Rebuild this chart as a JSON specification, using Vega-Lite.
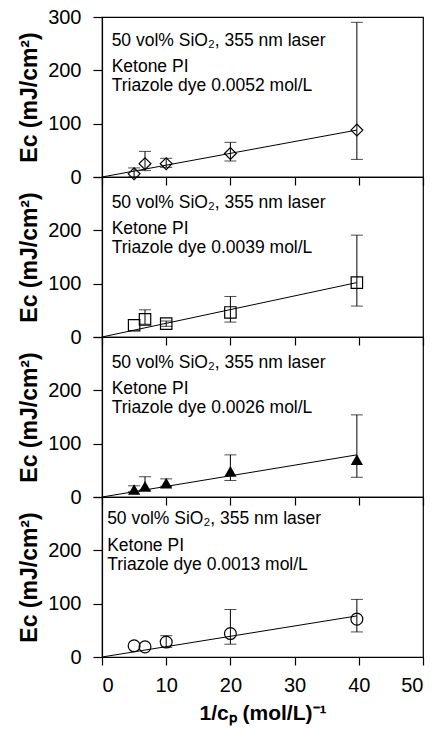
{
  "$schema": "https://vega.github.io/schema/vega-lite/v6.json",
  "background": "white",
  "padding": {"left": 18, "top": 6, "right": 2, "bottom": 2},
  "bounds": "flush",
  "spacing": 0,
  "datasets": {
    "pts": [
      {"panel": 1, "x": 5, "y": 6, "lo": 0, "hi": 17},
      {"panel": 1, "x": 6.7, "y": 25, "lo": 12, "hi": 48},
      {"panel": 1, "x": 10, "y": 25, "lo": 18, "hi": 35},
      {"panel": 1, "x": 20, "y": 44, "lo": 30, "hi": 65},
      {"panel": 1, "x": 39.7, "y": 88, "lo": 33, "hi": 290},
      {"panel": 2, "x": 5, "y": 22, "lo": null, "hi": null},
      {"panel": 2, "x": 6.7, "y": 33, "lo": 24, "hi": 51},
      {"panel": 2, "x": 10, "y": 25, "lo": 20, "hi": 30},
      {"panel": 2, "x": 20, "y": 46, "lo": 28, "hi": 76},
      {"panel": 2, "x": 39.7, "y": 102, "lo": 58, "hi": 191},
      {"panel": 3, "x": 5, "y": 14, "lo": 10, "hi": 21},
      {"panel": 3, "x": 6.7, "y": 20, "lo": 13, "hi": 38},
      {"panel": 3, "x": 10, "y": 26, "lo": 20, "hi": 34},
      {"panel": 3, "x": 20, "y": 48, "lo": 31, "hi": 79},
      {"panel": 3, "x": 39.7, "y": 70, "lo": 37, "hi": 154},
      {"panel": 4, "x": 5, "y": 21, "lo": null, "hi": null},
      {"panel": 4, "x": 6.7, "y": 19, "lo": null, "hi": null},
      {"panel": 4, "x": 10, "y": 28, "lo": 18, "hi": 40},
      {"panel": 4, "x": 20, "y": 44, "lo": 24, "hi": 89},
      {"panel": 4, "x": 39.7, "y": 71, "lo": 47, "hi": 108}
    ],
    "fits": [
      {"panel": 1, "x": 0, "y": 0, "x2": 39.7, "y2": 88},
      {"panel": 2, "x": 0, "y": 0, "x2": 39.7, "y2": 102},
      {"panel": 3, "x": 0, "y": 0, "x2": 39.7, "y2": 79},
      {"panel": 4, "x": 0, "y": 0, "x2": 39.7, "y2": 77}
    ],
    "notes": [
      {"panel": 1, "tx": 1.5, "ty": 245, "text": "50 vol% SiO₂, 355 nm laser"},
      {"panel": 1, "tx": 1.5, "ty": 196, "text": "Ketone PI"},
      {"panel": 1, "tx": 1.5, "ty": 161, "text": "Triazole dye 0.0052 mol/L"},
      {"panel": 2, "tx": 1.5, "ty": 242, "text": "50 vol% SiO₂, 355 nm laser"},
      {"panel": 2, "tx": 1.5, "ty": 193, "text": "Ketone PI"},
      {"panel": 2, "tx": 1.5, "ty": 158, "text": "Triazole dye 0.0039 mol/L"},
      {"panel": 3, "tx": 1.5, "ty": 242, "text": "50 vol% SiO₂, 355 nm laser"},
      {"panel": 3, "tx": 1.5, "ty": 193, "text": "Ketone PI"},
      {"panel": 3, "tx": 1.5, "ty": 158, "text": "Triazole dye 0.0026 mol/L"},
      {"panel": 4, "tx": 0.8, "ty": 250, "text": "50 vol% SiO₂, 355 nm laser"},
      {"panel": 4, "tx": 0.8, "ty": 199, "text": "Ketone PI"},
      {"panel": 4, "tx": 0.8, "ty": 164, "text": "Triazole dye 0.0013 mol/L"}
    ]
  },
  "config": {
    "view": {"stroke": "black", "strokeWidth": 1.2},
    "axis": {
      "domainColor": "black", "domainWidth": 1.2,
      "tickColor": "black", "tickWidth": 1.2,
      "labelColor": "black", "labelFont": "Liberation Sans", "labelFontSize": 20,
      "titleColor": "black", "titleFont": "Liberation Sans", "titleFontWeight": "bold", "titleFontSize": 23,
      "grid": false
    },
    "text": {"font": "Liberation Sans", "fontSize": 17.5, "color": "black", "align": "left", "baseline": "alphabetic"}
  },
  "vconcat": [
    {
      "width": 321, "height": 160,
      "layer": [
        {"data": {"name": "fits"}, "transform": [{"filter": "datum.panel === 1"}],
         "mark": {"type": "rule", "color": "black", "strokeWidth": 1},
         "encoding": {
           "x": {"field": "x", "type": "quantitative", "scale": {"domain": [0, 50], "nice": false},
                 "axis": {"values": [0,5,10,15,20,25,30,35,40,45,50], "labels": false, "title": null,
                          "tickSize": {"condition": {"test": "datum.value % 10 !== 0", "value": 5}, "value": 8}}},
           "y": {"field": "y", "type": "quantitative", "scale": {"domain": [0, 300], "nice": false},
                 "axis": {"values": [0,50,100,150,200,250,300], "labelExpr": "datum.value % 100 === 0 ? datum.label : ''",
                          "tickSize": {"condition": {"test": "datum.value % 100 !== 0", "value": 5}, "value": 9},
                          "labelPadding": 12, "title": "Ec (mJ/cm²)", "titlePadding": 6}},
           "x2": {"field": "x2"}, "y2": {"field": "y2"}}},
        {"data": {"name": "pts"}, "transform": [{"filter": "datum.panel === 1 && datum.lo != null"}],
         "mark": {"type": "rule", "color": "black", "strokeWidth": 1},
         "encoding": {"x": {"field": "x", "type": "quantitative"}, "y": {"field": "lo", "type": "quantitative", "title": "Ec (mJ/cm²)"}, "y2": {"field": "hi"}}},
        {"data": {"name": "pts"}, "transform": [{"filter": "datum.panel === 1 && datum.lo != null"}],
         "mark": {"type": "tick", "orient": "horizontal", "color": "black", "size": 12, "thickness": 1},
         "encoding": {"x": {"field": "x", "type": "quantitative"}, "y": {"field": "lo", "type": "quantitative", "title": "Ec (mJ/cm²)"}}},
        {"data": {"name": "pts"}, "transform": [{"filter": "datum.panel === 1 && datum.lo != null"}],
         "mark": {"type": "tick", "orient": "horizontal", "color": "black", "size": 12, "thickness": 1},
         "encoding": {"x": {"field": "x", "type": "quantitative"}, "y": {"field": "hi", "type": "quantitative", "title": "Ec (mJ/cm²)"}}},
        {"data": {"name": "pts"}, "transform": [{"filter": "datum.panel === 1"}],
         "mark": {"type": "point", "shape": "diamond", "filled": false, "stroke": "black", "strokeWidth": 1.2, "size": 140, "opacity": 1},
         "encoding": {"x": {"field": "x", "type": "quantitative"}, "y": {"field": "y", "type": "quantitative", "title": "Ec (mJ/cm²)"}}},
        {"data": {"name": "notes"}, "transform": [{"filter": "datum.panel === 1"}],
         "mark": {"type": "text"},
         "encoding": {"x": {"field": "tx", "type": "quantitative"}, "y": {"field": "ty", "type": "quantitative", "title": "Ec (mJ/cm²)"}, "text": {"field": "text"}}}
      ]
    },
    {
      "width": 321, "height": 160,
      "layer": [
        {"data": {"name": "fits"}, "transform": [{"filter": "datum.panel === 2"}],
         "mark": {"type": "rule", "color": "black", "strokeWidth": 1},
         "encoding": {
           "x": {"field": "x", "type": "quantitative", "scale": {"domain": [0, 50], "nice": false},
                 "axis": {"values": [0,5,10,15,20,25,30,35,40,45,50], "labels": false, "title": null,
                          "tickSize": {"condition": {"test": "datum.value % 10 !== 0", "value": 5}, "value": 8}}},
           "y": {"field": "y", "type": "quantitative", "scale": {"domain": [0, 300], "nice": false},
                 "axis": {"values": [0,50,100,150,200,250,300], "labelExpr": "datum.value % 100 === 0 && datum.value < 300 ? datum.label : ''",
                          "tickSize": {"condition": {"test": "datum.value % 100 !== 0", "value": 5}, "value": 9},
                          "labelPadding": 12, "title": "Ec (mJ/cm²)", "titlePadding": 6}},
           "x2": {"field": "x2"}, "y2": {"field": "y2"}}},
        {"data": {"name": "pts"}, "transform": [{"filter": "datum.panel === 2 && datum.lo != null"}],
         "mark": {"type": "rule", "color": "black", "strokeWidth": 1},
         "encoding": {"x": {"field": "x", "type": "quantitative"}, "y": {"field": "lo", "type": "quantitative", "title": "Ec (mJ/cm²)"}, "y2": {"field": "hi"}}},
        {"data": {"name": "pts"}, "transform": [{"filter": "datum.panel === 2 && datum.lo != null"}],
         "mark": {"type": "tick", "orient": "horizontal", "color": "black", "size": 12, "thickness": 1},
         "encoding": {"x": {"field": "x", "type": "quantitative"}, "y": {"field": "lo", "type": "quantitative", "title": "Ec (mJ/cm²)"}}},
        {"data": {"name": "pts"}, "transform": [{"filter": "datum.panel === 2 && datum.lo != null"}],
         "mark": {"type": "tick", "orient": "horizontal", "color": "black", "size": 12, "thickness": 1},
         "encoding": {"x": {"field": "x", "type": "quantitative"}, "y": {"field": "hi", "type": "quantitative", "title": "Ec (mJ/cm²)"}}},
        {"data": {"name": "pts"}, "transform": [{"filter": "datum.panel === 2"}],
         "mark": {"type": "point", "shape": "square", "filled": false, "stroke": "black", "strokeWidth": 1.2, "size": 130, "opacity": 1},
         "encoding": {"x": {"field": "x", "type": "quantitative"}, "y": {"field": "y", "type": "quantitative", "title": "Ec (mJ/cm²)"}}},
        {"data": {"name": "notes"}, "transform": [{"filter": "datum.panel === 2"}],
         "mark": {"type": "text"},
         "encoding": {"x": {"field": "tx", "type": "quantitative"}, "y": {"field": "ty", "type": "quantitative", "title": "Ec (mJ/cm²)"}, "text": {"field": "text"}}}
      ]
    },
    {
      "width": 321, "height": 160,
      "layer": [
        {"data": {"name": "fits"}, "transform": [{"filter": "datum.panel === 3"}],
         "mark": {"type": "rule", "color": "black", "strokeWidth": 1},
         "encoding": {
           "x": {"field": "x", "type": "quantitative", "scale": {"domain": [0, 50], "nice": false},
                 "axis": {"values": [0,5,10,15,20,25,30,35,40,45,50], "labels": false, "title": null,
                          "tickSize": {"condition": {"test": "datum.value % 10 !== 0", "value": 5}, "value": 8}}},
           "y": {"field": "y", "type": "quantitative", "scale": {"domain": [0, 300], "nice": false},
                 "axis": {"values": [0,50,100,150,200,250,300], "labelExpr": "datum.value % 100 === 0 && datum.value < 300 ? datum.label : ''",
                          "tickSize": {"condition": {"test": "datum.value % 100 !== 0", "value": 5}, "value": 9},
                          "labelPadding": 12, "title": "Ec (mJ/cm²)", "titlePadding": 6}},
           "x2": {"field": "x2"}, "y2": {"field": "y2"}}},
        {"data": {"name": "pts"}, "transform": [{"filter": "datum.panel === 3 && datum.lo != null"}],
         "mark": {"type": "rule", "color": "black", "strokeWidth": 1},
         "encoding": {"x": {"field": "x", "type": "quantitative"}, "y": {"field": "lo", "type": "quantitative", "title": "Ec (mJ/cm²)"}, "y2": {"field": "hi"}}},
        {"data": {"name": "pts"}, "transform": [{"filter": "datum.panel === 3 && datum.lo != null"}],
         "mark": {"type": "tick", "orient": "horizontal", "color": "black", "size": 12, "thickness": 1},
         "encoding": {"x": {"field": "x", "type": "quantitative"}, "y": {"field": "lo", "type": "quantitative", "title": "Ec (mJ/cm²)"}}},
        {"data": {"name": "pts"}, "transform": [{"filter": "datum.panel === 3 && datum.lo != null"}],
         "mark": {"type": "tick", "orient": "horizontal", "color": "black", "size": 12, "thickness": 1},
         "encoding": {"x": {"field": "x", "type": "quantitative"}, "y": {"field": "hi", "type": "quantitative", "title": "Ec (mJ/cm²)"}}},
        {"data": {"name": "pts"}, "transform": [{"filter": "datum.panel === 3"}],
         "mark": {"type": "point", "shape": "triangle-up", "filled": true, "color": "black", "size": 150, "opacity": 1},
         "encoding": {"x": {"field": "x", "type": "quantitative"}, "y": {"field": "y", "type": "quantitative", "title": "Ec (mJ/cm²)"}}},
        {"data": {"name": "notes"}, "transform": [{"filter": "datum.panel === 3"}],
         "mark": {"type": "text"},
         "encoding": {"x": {"field": "tx", "type": "quantitative"}, "y": {"field": "ty", "type": "quantitative", "title": "Ec (mJ/cm²)"}, "text": {"field": "text"}}}
      ]
    },
    {
      "width": 321, "height": 160,
      "layer": [
        {"data": {"name": "fits"}, "transform": [{"filter": "datum.panel === 4"}],
         "mark": {"type": "rule", "color": "black", "strokeWidth": 1},
         "encoding": {
           "x": {"field": "x", "type": "quantitative", "scale": {"domain": [0, 50], "nice": false},
                 "axis": {"values": [0,5,10,15,20,25,30,35,40,45,50], "labelExpr": "datum.value % 10 === 0 ? datum.label : ''",
                          "tickSize": {"condition": {"test": "datum.value % 10 !== 0", "value": 5}, "value": 8},
                          "labelPadding": 10, "title": "1/cₚ (mol/L)⁻¹", "titleFontSize": 21, "titlePadding": 7}},
           "y": {"field": "y", "type": "quantitative", "scale": {"domain": [0, 300], "nice": false},
                 "axis": {"values": [0,50,100,150,200,250,300], "labelExpr": "datum.value % 100 === 0 && datum.value < 300 ? datum.label : ''",
                          "tickSize": {"condition": {"test": "datum.value % 100 !== 0", "value": 5}, "value": 9},
                          "labelPadding": 12, "title": "Ec (mJ/cm²)", "titlePadding": 6}},
           "x2": {"field": "x2"}, "y2": {"field": "y2"}}},
        {"data": {"name": "pts"}, "transform": [{"filter": "datum.panel === 4 && datum.lo != null"}],
         "mark": {"type": "rule", "color": "black", "strokeWidth": 1},
         "encoding": {"x": {"field": "x", "type": "quantitative", "title": "1/cₚ (mol/L)⁻¹"}, "y": {"field": "lo", "type": "quantitative", "title": "Ec (mJ/cm²)"}, "y2": {"field": "hi"}}},
        {"data": {"name": "pts"}, "transform": [{"filter": "datum.panel === 4 && datum.lo != null"}],
         "mark": {"type": "tick", "orient": "horizontal", "color": "black", "size": 12, "thickness": 1},
         "encoding": {"x": {"field": "x", "type": "quantitative", "title": "1/cₚ (mol/L)⁻¹"}, "y": {"field": "lo", "type": "quantitative", "title": "Ec (mJ/cm²)"}}},
        {"data": {"name": "pts"}, "transform": [{"filter": "datum.panel === 4 && datum.lo != null"}],
         "mark": {"type": "tick", "orient": "horizontal", "color": "black", "size": 12, "thickness": 1},
         "encoding": {"x": {"field": "x", "type": "quantitative", "title": "1/cₚ (mol/L)⁻¹"}, "y": {"field": "hi", "type": "quantitative", "title": "Ec (mJ/cm²)"}}},
        {"data": {"name": "pts"}, "transform": [{"filter": "datum.panel === 4"}],
         "mark": {"type": "point", "shape": "circle", "filled": false, "stroke": "black", "strokeWidth": 1.2, "size": 140, "opacity": 1},
         "encoding": {"x": {"field": "x", "type": "quantitative", "title": "1/cₚ (mol/L)⁻¹"}, "y": {"field": "y", "type": "quantitative", "title": "Ec (mJ/cm²)"}}},
        {"data": {"name": "notes"}, "transform": [{"filter": "datum.panel === 4"}],
         "mark": {"type": "text"},
         "encoding": {"x": {"field": "tx", "type": "quantitative", "title": "1/cₚ (mol/L)⁻¹"}, "y": {"field": "ty", "type": "quantitative", "title": "Ec (mJ/cm²)"}, "text": {"field": "text"}}}
      ]
    }
  ]
}
